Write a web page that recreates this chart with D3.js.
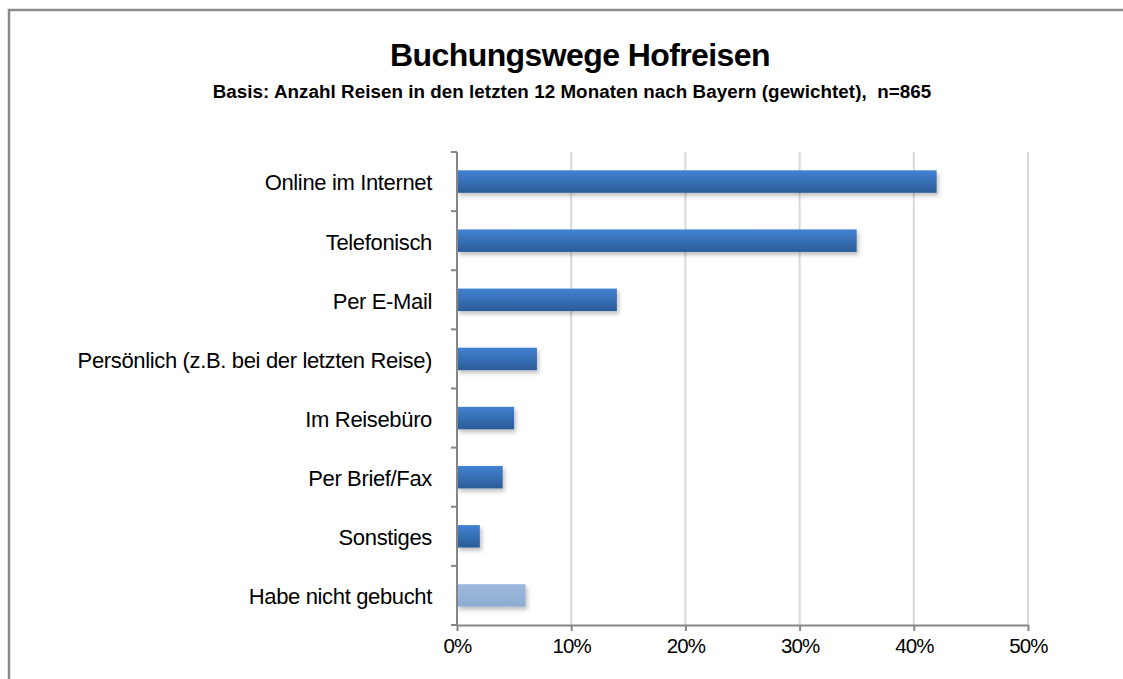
<!DOCTYPE html>
<html><head><meta charset="utf-8">
<script src="https://cdn.jsdelivr.net/npm/d3@7"></script>
<style>body{margin:0;background:#fff}svg{display:block}text{font-family:"Liberation Sans",Arial,sans-serif}</style>
</head><body>
<script>
const categories = ["Online im Internet","Telefonisch","Per E-Mail","Persönlich (z.B. bei der letzten Reise)","Im Reisebüro","Per Brief/Fax","Sonstiges","Habe nicht gebucht"];
const values = [42,35,14,7,5,4,2,6];
const highlight = [false,false,false,false,false,false,false,true];
const xTicks = [0,10,20,30,40,50];
const title = "Buchungswege Hofreisen";
const subtitle = "Basis: Anzahl Reisen in den letzten 12 Monaten nach Bayern (gewichtet),  n=865";

const W=1123,H=679;
const svg=d3.select("body").append("svg").attr("width",W).attr("height",H);
const defs=svg.append("defs");
const g1=defs.append("linearGradient").attr("id","gb").attr("x1",0).attr("y1",0).attr("x2",0).attr("y2",1);
g1.append("stop").attr("offset","0%").attr("stop-color","#4182d2");
g1.append("stop").attr("offset","100%").attr("stop-color","#2b5c99");
const g2=defs.append("linearGradient").attr("id","gl").attr("x1",0).attr("y1",0).attr("x2",0).attr("y2",1);
g2.append("stop").attr("offset","0%").attr("stop-color","#9cb9dc");
g2.append("stop").attr("offset","100%").attr("stop-color","#8eabd2");
const f=defs.append("filter").attr("id","sh").attr("x","-10%").attr("y","-30%").attr("width","130%").attr("height","180%");
f.append("feDropShadow").attr("dx",2).attr("dy",3).attr("stdDeviation",2).attr("flood-color","#000").attr("flood-opacity",0.25);

// frame
svg.append("path").attr("d",`M9,${H} L9,10 L${W},10`).attr("fill","none").attr("stroke","#8a8a8a").attr("stroke-width",2.5);

svg.append("text").attr("x",580).attr("y",66).attr("text-anchor","middle").attr("font-size",32).attr("font-weight","bold").attr("letter-spacing",-0.6).text(title);
svg.append("text").attr("x",572).attr("y",98).attr("text-anchor","middle").attr("font-size",18.8).attr("font-weight","bold").attr("letter-spacing",0.05).attr("xml:space","preserve").style("white-space","pre").text(subtitle);

const x=d3.scaleLinear().domain([0,50]).range([457,1028]);
const y=d3.scaleBand().domain(categories).range([152,625]).paddingInner(0.62).paddingOuter(0.31);
const band=(625-152)/categories.length;

// gridlines
svg.append("g").selectAll("line").data(xTicks.slice(1)).join("line")
 .attr("x1",d=>x(d)).attr("x2",d=>x(d)).attr("y1",152).attr("y2",625)
 .attr("stroke","#d9d9d9").attr("stroke-width",2);

// bars
svg.append("g").selectAll("rect").data(values).join("rect")
 .attr("x",x(0)).attr("y",(d,i)=>y(categories[i]))
 .attr("width",d=>x(d)-x(0)).attr("height",y.bandwidth())
 .attr("fill",(d,i)=>highlight[i]?"url(#gl)":"url(#gb)").attr("filter","url(#sh)");

// x axis
const xa=svg.append("g").attr("transform","translate(0,625)").call(d3.axisBottom(x).tickValues(xTicks).tickFormat(d=>d+"%").tickSizeInner(6).tickSizeOuter(0).tickPadding(7));
xa.select(".domain").attr("stroke","#868686").attr("stroke-width",2);
xa.selectAll(".tick line").attr("stroke","#868686").attr("stroke-width",2);
xa.selectAll("text").attr("font-size",20.5).attr("letter-spacing",-0.9).attr("fill","#000");

// y axis
const ya=svg.append("g").attr("transform",`translate(${x(0)},0)`).call(d3.axisLeft(y).tickSize(0).tickPadding(25));
ya.select(".domain").attr("stroke","#868686").attr("stroke-width",2).attr("d","M0,152V625");
ya.selectAll("text").attr("font-size",22).attr("letter-spacing",-0.35).attr("fill","#000").attr("dy","0.4em");
svg.append("g").selectAll("line").data(d3.range(categories.length+1)).join("line")
 .attr("x1",x(0)-6).attr("x2",x(0)).attr("y1",i=>152+i*band).attr("y2",i=>152+i*band)
 .attr("stroke","#868686").attr("stroke-width",2);
</script>
</body></html>
